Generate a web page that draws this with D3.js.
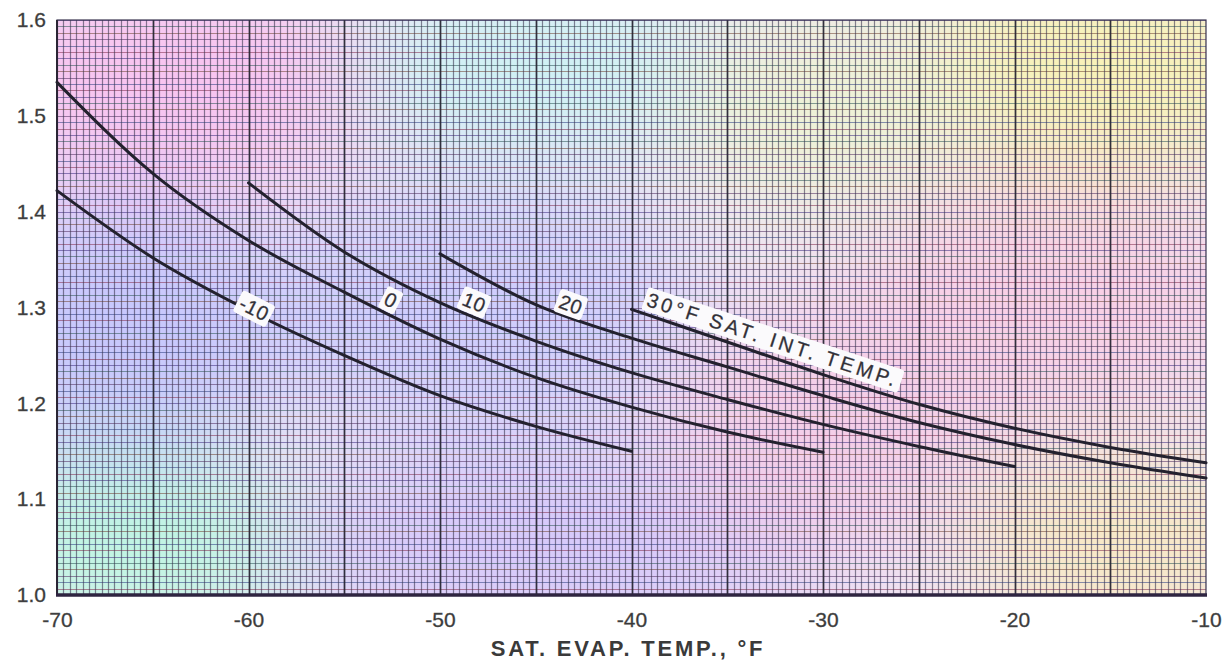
<!DOCTYPE html>
<html><head><meta charset="utf-8">
<script src="https://cdn.jsdelivr.net/npm/d3@7"></script>
<style>
html,body{margin:0;padding:0;background:#fff;}
svg{display:block;font-family:"Liberation Sans", Arial, Helvetica, sans-serif;}
</style></head><body>
<svg id="chart" width="1227" height="661"></svg>
<script>
// ---------------- data ----------------
const xTicks = [-70, -60, -50, -40, -30, -20, -10];
const yTicks = [1.0, 1.1, 1.2, 1.3, 1.4, 1.5, 1.6];
const xTitle = "SAT. EVAP. TEMP., \u00B0F";

const tempM10 = [-70, -65, -60, -55, -50, -45, -40];
const valM10  = [1.422, 1.352, 1.297, 1.250, 1.208, 1.176, 1.150];
const temp0   = [-70, -65, -60, -55, -50, -45, -40, -35, -30];
const val0    = [1.535, 1.440, 1.370, 1.316, 1.267, 1.227, 1.196, 1.170, 1.149];
const temp10  = [-60, -55, -50, -45, -40, -35, -30, -25, -20];
const val10   = [1.430, 1.358, 1.305, 1.265, 1.232, 1.204, 1.178, 1.155, 1.134];
const temp20  = [-50, -45, -40, -35, -30, -25, -20, -15, -10];
const val20   = [1.356, 1.303, 1.268, 1.238, 1.208, 1.180, 1.157, 1.138, 1.122];
const temp30  = [-40, -35, -30, -25, -20, -15, -10];
const val30   = [1.298, 1.264, 1.230, 1.199, 1.174, 1.154, 1.138];

const curveLabels = ["-10", "0", "10", "20", "30\u00B0F SAT. INT. TEMP."];
const labelTemps  = [-59.8, -52.9, -48.5, -43.4, -39.4];

// ---------------- layout ----------------
const mL = 57, mR = 1206, mT = 20, mB = 595;
const svg = d3.select("#chart");
const x = d3.scaleLinear().domain([-70, -10]).range([mL, mR]);
const y = d3.scaleLinear().domain([1.0, 1.6]).range([mB, mT]);

const defs = svg.append("defs");
defs.append("clipPath").attr("id", "plotClip")
  .append("rect").attr("x", mL).attr("y", mT)
  .attr("width", mR - mL).attr("height", mB - mT);
const blur = defs.append("filter").attr("id", "soft")
  .attr("x", "-50%").attr("y", "-50%").attr("width", "200%").attr("height", "200%");
blur.append("feGaussianBlur").attr("stdDeviation", 50);

// paper tint
const paper = svg.append("g").attr("clip-path", "url(#plotClip)");
paper.append("rect").attr("x", mL).attr("y", mT)
  .attr("width", mR - mL).attr("height", mB - mT).attr("fill", "#eee4f4");
const tints = [
  [170, 80, 220, 110, "#f8c4f0"],
  [120, 330, 160, 140, "#c8c8fc"],
  [130, 545, 170, 90, "#bff6e2"],
  [540, 70, 200, 80, "#cdf2f4"],
  [470, 310, 220, 120, "#cfcdfc"],
  [560, 545, 280, 90, "#d6c8fa"],
  [1090, 70, 200, 110, "#f8f2b8"],
  [1050, 300, 200, 120, "#f8d0e6"],
  [1120, 545, 160, 90, "#f8e8c4"],
  [830, 430, 160, 120, "#f4cee8"],
  [830, 110, 150, 100, "#eef2d6"]
];
const tg = paper.append("g").attr("filter", "url(#soft)");
tints.forEach(t => tg.append("ellipse").attr("cx", t[0]).attr("cy", t[1])
  .attr("rx", t[2]).attr("ry", t[3]).attr("fill", t[4]));

// fine grid
const grid = svg.append("g").attr("clip-path", "url(#plotClip)");
const fineX = d3.range(0, 181).map(i => -70 + i / 3);
const fineY = d3.range(0, 91).map(i => 1 + i * 0.1 / 15);
const hCols = ["#4b3b8a", "#8a3b5a", "#3b4b8a", "#5b3b6b", "#7a5040", "#3b6060"];
grid.selectAll("line.fy").data(fineY).join("line").attr("class", "fy")
  .attr("x1", mL).attr("x2", mR)
  .attr("y1", d => Math.round(y(d)) + 0.5).attr("y2", d => Math.round(y(d)) + 0.5)
  .attr("stroke", (d, i) => hCols[(i * 7) % hCols.length])
  .attr("stroke-opacity", 0.6).attr("stroke-width", 1.2);
grid.selectAll("line.fx").data(fineX).join("line").attr("class", "fx")
  .attr("y1", mT).attr("y2", mB)
  .attr("x1", d => Math.round(x(d)) + 0.5).attr("x2", d => Math.round(x(d)) + 0.5)
  .attr("stroke", "#3a3550").attr("stroke-opacity", 0.6).attr("stroke-width", 1.2);
grid.selectAll("line.mx").data(d3.range(-65, -10, 5)).join("line").attr("class", "mx")
  .attr("y1", mT).attr("y2", mB)
  .attr("x1", d => Math.round(x(d)) + 0.5).attr("x2", d => Math.round(x(d)) + 0.5)
  .attr("stroke", "#25232f").attr("stroke-opacity", 0.85).attr("stroke-width", 1.7);

// frame
svg.append("rect").attr("x", mL).attr("y", mT).attr("width", mR - mL)
  .attr("height", mB - mT).attr("fill", "none")
  .attr("stroke", "#3a3550").attr("stroke-width", 1.2);
svg.append("line").attr("x1", mL).attr("x2", mL).attr("y1", mT).attr("y2", mB)
  .attr("stroke", "#2a2535").attr("stroke-width", 2);
svg.append("line").attr("x1", mL - 1).attr("x2", mR + 1).attr("y1", mB).attr("y2", mB)
  .attr("stroke", "#2e2440").attr("stroke-width", 3.5);

// axes
const xAxis = svg.append("g").attr("transform", `translate(0,${mB})`)
  .call(d3.axisBottom(x).tickValues(xTicks).tickSize(0).tickPadding(17).tickFormat(d => String(d)));
const yAxis = svg.append("g").attr("transform", `translate(${mL},0)`)
  .call(d3.axisLeft(y).tickValues(yTicks).tickSize(0).tickPadding(11).tickFormat(d3.format(".1f")));
[xAxis, yAxis].forEach(a => {
  a.select(".domain").remove();
  a.selectAll("text").attr("font-size", 21).attr("fill", "#383838")
    .attr("stroke", "#555").attr("stroke-width", 0.35)
    .attr("font-family", "'Liberation Sans', Arial, sans-serif");
});
xAxis.selectAll("text").attr("dy", "0.71em");

svg.append("text").attr("x", 628).attr("y", 656).attr("text-anchor", "middle")
  .attr("font-size", 22).attr("font-weight", "bold").attr("letter-spacing", 2.8)
  .attr("fill", "#3a3a3a").text(xTitle);

// curves
const series = [
  [tempM10, valM10], [temp0, val0], [temp10, val10], [temp20, val20], [temp30, val30]
];
const line = d3.line().x(d => x(d[0])).y(d => y(d[1])).curve(d3.curveMonotoneX);
const paths = series.map(s => {
  const pts = s[0].map((t, i) => [t, s[1][i]]);
  return svg.append("path").attr("d", line(pts)).attr("fill", "none")
    .attr("stroke", "#23212e").attr("stroke-width", 3).attr("stroke-linecap", "round").node();
});

function pointAtX(node, px) {
  const L = node.getTotalLength();
  let lo = 0, hi = L;
  for (let k = 0; k < 40; k++) {
    const mid = (lo + hi) / 2;
    if (node.getPointAtLength(mid).x < px) lo = mid; else hi = mid;
  }
  return node.getPointAtLength((lo + hi) / 2);
}

// labels
const offsets = [4, 14, 14, 13, 15];
curveLabels.forEach((lab, i) => {
  const px = x(labelTemps[i]);
  const p = pointAtX(paths[i], px);
  const p1 = pointAtX(paths[i], px - 6), p2 = pointAtX(paths[i], px + 6);
  let ang = Math.atan2(p2.y - p1.y, p2.x - p1.x);
  if (i === 4) {
    const pe = pointAtX(paths[i], x(-24));
    ang = Math.atan2(pe.y - p.y, pe.x - p.x);
  }
  const nx = Math.sin(ang), ny = -Math.cos(ang);
  const cx = p.x + nx * offsets[i], cy = p.y + ny * offsets[i];
  const g = svg.append("g")
    .attr("transform", `translate(${cx},${cy}) rotate(${ang * 180 / Math.PI})`);
  const rect = g.append("rect").attr("fill", "#fbfafc").attr("rx", 3);
  const txt = g.append("text").attr("font-size", i === 4 ? 20 : 20)
    .attr("letter-spacing", i === 4 ? 3.5 : 0.5)
    .attr("fill", "#302e38").attr("stroke", "#444").attr("stroke-width", 0.3)
    .attr("text-anchor", i === 4 ? "start" : "middle")
    .attr("dy", "0.35em").text(lab);
  const b = txt.node().getBBox();
  rect.attr("x", b.x - 3).attr("y", b.y - 1).attr("width", b.width + 6).attr("height", b.height + 2);
});
</script>
</body></html>
